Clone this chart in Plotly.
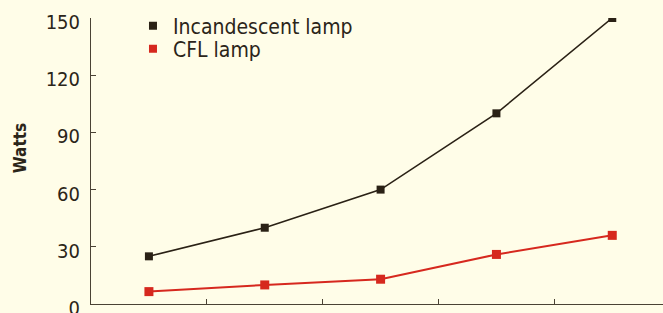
import plotly.graph_objects as go

categories = ["25 W", "40 W", "60 W", "100 W", "150 W"]
incandescent = [25, 40, 60, 100, 150]
cfl = [6.5, 10, 13, 26, 36]
y_ticks = [0, 30, 60, 90, 120, 150]

BG = "#FFFDE8"
AXIS = "#4a4234"
TEXT = "#2b2519"
DARK = "#2a2115"
RED = "#d6281e"
FONT = "DejaVu Sans Condensed"

fig = go.Figure()
fig.add_trace(go.Scatter(x=categories, y=incandescent, mode="lines+markers",
                         line=dict(color=DARK, width=1.6),
                         marker=dict(symbol="square", size=8, color=DARK),
                         showlegend=False, hoverinfo="skip"))
fig.add_trace(go.Scatter(x=categories, y=cfl, mode="lines+markers",
                         line=dict(color=RED, width=2),
                         marker=dict(symbol="square", size=9, color=RED),
                         showlegend=False, hoverinfo="skip"))
# legend entries (square swatches only)
fig.add_trace(go.Scatter(x=[None], y=[None], mode="markers", name="Incandescent lamp",
                         marker=dict(symbol="square", size=8, color=DARK), legend="legend"))
fig.add_trace(go.Scatter(x=[None], y=[None], mode="markers", name="CFL lamp",
                         marker=dict(symbol="square", size=8, color=RED), legend="legend2"))

legend_common = dict(font=dict(family=FONT, size=21, color=TEXT),
                     bgcolor="rgba(0,0,0,0)", borderwidth=0, xanchor="left", yanchor="middle",
                     itemclick=False, itemdoubleclick=False)

fig.update_layout(
    template="none",
    width=663, height=313,
    margin=dict(l=91, r=0, t=18, b=9, autoexpand=False),
    paper_bgcolor=BG, plot_bgcolor=BG,
    legend=dict(x=0.0734, y=(304.3 - 26.5) / 286, **legend_common),
    legend2=dict(x=0.0734, y=(304.3 - 49.5) / 286, **legend_common),
    xaxis=dict(type="category", range=[-0.5, 4.438], showgrid=False, zeroline=False,
               automargin=False,
               showline=True, linecolor=AXIS, linewidth=1,
               ticks="inside", tickson="boundaries", ticklen=5, tickcolor=AXIS,
               showticklabels=False),
    yaxis=dict(range=[0, 150], tickvals=y_ticks, showgrid=False, zeroline=False,
               automargin=False, ticklabeloverflow="allow",
               showline=True, linecolor=AXIS, linewidth=1,
               ticks="inside", ticklen=5, tickcolor=AXIS,
               ticklabelstandoff=6, ticklabelshift=4,
               tickfont=dict(family=FONT, size=20, color=TEXT)),
    annotations=[dict(text="<b>Watts</b>", textangle=-90, xref="paper", yref="paper",
                      x=(19.5 - 91) / 572, y=(304.3 - 149) / 286,
                      xanchor="center", yanchor="middle", showarrow=False,
                      font=dict(family=FONT, size=17, color=TEXT))],
)

fig.write_html("out.html", config={"displayModeBar": False},
               post_script="document.body.style.margin='0';document.body.style.overflow='hidden';")
